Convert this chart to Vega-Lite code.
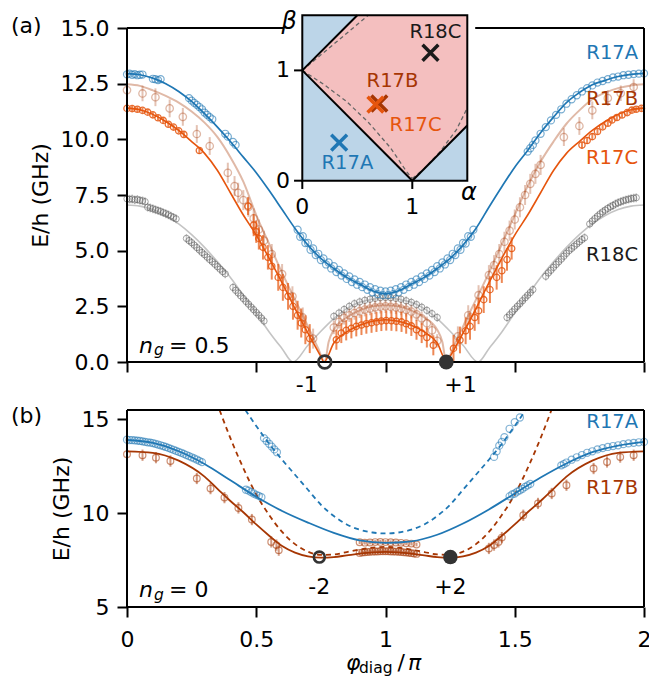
{
"$schema": "https://vega.github.io/schema/vega-lite/v6.json",
"padding": {"left": 10, "top": 6, "right": 5, "bottom": 5},
"background": "white",
"bounds": "flush",
"spacing": 48,
"config": {
  "font": "DejaVu Sans",
  "view": {"stroke": null},
  "axis": {"domain": false, "grid": false, "tickColor": "black", "tickWidth": 2, "tickSize": 10, "labelFontSize": 22, "labelColor": "black", "labelPadding": 8, "labelFlush": false, "titleFontSize": 22, "titleFontWeight": "normal", "titleColor": "black", "titlePadding": 8},
  "text": {"fontSize": 22, "color": "black"}
},
"resolve": {"scale": {"x": "independent", "y": "independent"}},
"datasets": {
  "aL_R17A": [{"x":0,"y":12.95},{"x":0.05,"y":12.9},{"x":0.1,"y":12.75},{"x":0.15,"y":12.5},{"x":0.2,"y":12.15},{"x":0.25,"y":11.7},{"x":0.3,"y":11.15},{"x":0.35,"y":10.55},{"x":0.4,"y":9.9},{"x":0.45,"y":9.2},{"x":0.5,"y":8.5},{"x":0.55,"y":7.7},{"x":0.6,"y":6.85},{"x":0.65,"y":6.0},{"x":0.7,"y":5.25},{"x":0.75,"y":4.65},{"x":0.8,"y":4.2},{"x":0.85,"y":3.8},{"x":0.9,"y":3.5},{"x":0.95,"y":3.2},{"x":1.0,"y":3.07},{"x":1.05,"y":3.2},{"x":1.1,"y":3.5},{"x":1.15,"y":3.8},{"x":1.2,"y":4.2},{"x":1.25,"y":4.65},{"x":1.3,"y":5.25},{"x":1.35,"y":6.0},{"x":1.4,"y":6.95},{"x":1.45,"y":7.87},{"x":1.5,"y":8.75},{"x":1.55,"y":9.5},{"x":1.6,"y":10.3},{"x":1.65,"y":11.0},{"x":1.7,"y":11.65},{"x":1.75,"y":12.1},{"x":1.8,"y":12.45},{"x":1.85,"y":12.65},{"x":1.9,"y":12.82},{"x":1.95,"y":12.92},{"x":2.0,"y":12.96}],
  "aL_R17B": [{"x":0,"y":12.47},{"x":0.05,"y":12.4},{"x":0.1,"y":12.2},{"x":0.15,"y":11.95},{"x":0.2,"y":11.65},{"x":0.25,"y":11.25},{"x":0.3,"y":10.75},{"x":0.35,"y":10.1},{"x":0.4,"y":9.2},{"x":0.45,"y":8.1},{"x":0.5,"y":6.6},{"x":0.55,"y":5.3},{"x":0.6,"y":4.0},{"x":0.65,"y":2.8},{"x":0.7,"y":1.6},{"x":0.74,"y":0.6},{"x":0.765,"y":0},{"x":0.78,"y":0.9},{"x":0.8,"y":1.45},{"x":0.85,"y":2.0},{"x":0.9,"y":2.32},{"x":0.95,"y":2.5},{"x":1.0,"y":2.55},{"x":1.05,"y":2.5},{"x":1.1,"y":2.32},{"x":1.15,"y":2.0},{"x":1.2,"y":1.45},{"x":1.22,"y":0.9},{"x":1.235,"y":0},{"x":1.26,"y":0.6},{"x":1.3,"y":1.6},{"x":1.35,"y":2.8},{"x":1.4,"y":4.0},{"x":1.45,"y":5.3},{"x":1.5,"y":6.6},{"x":1.55,"y":7.9},{"x":1.6,"y":9.0},{"x":1.65,"y":9.9},{"x":1.7,"y":10.7},{"x":1.75,"y":11.3},{"x":1.8,"y":11.8},{"x":1.85,"y":12.1},{"x":1.9,"y":12.3},{"x":1.95,"y":12.42},{"x":2.0,"y":12.47}],
  "aL_R17C": [{"x":0,"y":11.4},{"x":0.05,"y":11.33},{"x":0.1,"y":11.12},{"x":0.15,"y":10.8},{"x":0.2,"y":10.4},{"x":0.25,"y":9.9},{"x":0.3,"y":9.37},{"x":0.35,"y":8.6},{"x":0.4,"y":7.6},{"x":0.45,"y":6.6},{"x":0.5,"y":5.7},{"x":0.55,"y":4.65},{"x":0.6,"y":3.55},{"x":0.65,"y":2.4},{"x":0.7,"y":1.3},{"x":0.75,"y":0.25},{"x":0.762,"y":0},{"x":0.8,"y":0.85},{"x":0.85,"y":1.35},{"x":0.9,"y":1.65},{"x":0.95,"y":1.83},{"x":1.0,"y":1.9},{"x":1.05,"y":1.83},{"x":1.1,"y":1.65},{"x":1.15,"y":1.35},{"x":1.2,"y":0.85},{"x":1.238,"y":0},{"x":1.25,"y":0.25},{"x":1.3,"y":1.3},{"x":1.35,"y":2.4},{"x":1.4,"y":3.55},{"x":1.45,"y":4.65},{"x":1.5,"y":5.7},{"x":1.55,"y":6.6},{"x":1.6,"y":7.6},{"x":1.65,"y":8.6},{"x":1.7,"y":9.37},{"x":1.75,"y":9.9},{"x":1.8,"y":10.4},{"x":1.85,"y":10.8},{"x":1.9,"y":11.12},{"x":1.95,"y":11.33},{"x":2.0,"y":11.4}],
  "aL_R18C": [{"x":0,"y":7.05},{"x":0.05,"y":7.0},{"x":0.1,"y":6.85},{"x":0.15,"y":6.58},{"x":0.2,"y":6.2},{"x":0.25,"y":5.72},{"x":0.3,"y":5.15},{"x":0.35,"y":4.5},{"x":0.4,"y":3.8},{"x":0.45,"y":3.0},{"x":0.5,"y":2.2},{"x":0.55,"y":1.35},{"x":0.6,"y":0.6},{"x":0.642,"y":0},{"x":0.7,"y":0.75},{"x":0.75,"y":1.38},{"x":0.8,"y":1.95},{"x":0.85,"y":2.4},{"x":0.9,"y":2.68},{"x":0.95,"y":2.82},{"x":1.0,"y":2.87},{"x":1.05,"y":2.82},{"x":1.1,"y":2.68},{"x":1.15,"y":2.4},{"x":1.2,"y":1.95},{"x":1.25,"y":1.38},{"x":1.3,"y":0.75},{"x":1.358,"y":0},{"x":1.4,"y":0.6},{"x":1.45,"y":1.35},{"x":1.5,"y":2.2},{"x":1.55,"y":3.0},{"x":1.6,"y":3.8},{"x":1.65,"y":4.5},{"x":1.7,"y":5.15},{"x":1.75,"y":5.72},{"x":1.8,"y":6.2},{"x":1.85,"y":6.58},{"x":1.9,"y":6.85},{"x":1.95,"y":7.0},{"x":2.0,"y":7.05}],
  "aP_R18C": [{"x":0.0,"y":7.33,"e":0.2},{"x":0.01,"y":7.31,"e":0.2},{"x":0.02,"y":7.32,"e":0.2},{"x":0.03,"y":7.28,"e":0.2},{"x":0.04,"y":7.3,"e":0.2},{"x":0.05,"y":7.26,"e":0.2},{"x":0.06,"y":7.24,"e":0.2},{"x":0.07,"y":7.2,"e":0.2},
    {"x":0.08,"y":6.95,"e":0.2},{"x":0.09,"y":6.92,"e":0.2},{"x":0.1,"y":6.88,"e":0.2},{"x":0.11,"y":6.84,"e":0.2},{"x":0.12,"y":6.8,"e":0.2},{"x":0.13,"y":6.76,"e":0.2},{"x":0.14,"y":6.71,"e":0.2},{"x":0.15,"y":6.66,"e":0.2},{"x":0.16,"y":6.61,"e":0.2},{"x":0.17,"y":6.55,"e":0.2},{"x":0.18,"y":6.49,"e":0.2},{"x":0.19,"y":6.43,"e":0.2},
    {"x":0.23,"y":5.55,"e":0.2},{"x":0.24,"y":5.45,"e":0.2},{"x":0.25,"y":5.36,"e":0.2},{"x":0.26,"y":5.25,"e":0.2},{"x":0.27,"y":5.14,"e":0.2},{"x":0.28,"y":5.03,"e":0.2},{"x":0.29,"y":4.92,"e":0.2},{"x":0.3,"y":4.82,"e":0.2},{"x":0.31,"y":4.71,"e":0.2},{"x":0.32,"y":4.6,"e":0.2},{"x":0.33,"y":4.5,"e":0.2},{"x":0.34,"y":4.39,"e":0.2},{"x":0.35,"y":4.28,"e":0.2},{"x":0.36,"y":4.17,"e":0.2},{"x":0.37,"y":4.06,"e":0.2},{"x":0.38,"y":3.96,"e":0.2},
    {"x":0.41,"y":3.35,"e":0.2},{"x":0.42,"y":3.22,"e":0.2},{"x":0.43,"y":3.1,"e":0.2},{"x":0.44,"y":2.97,"e":0.2},{"x":0.45,"y":2.85,"e":0.2},{"x":0.46,"y":2.72,"e":0.2},{"x":0.47,"y":2.6,"e":0.2},{"x":0.48,"y":2.47,"e":0.2},{"x":0.49,"y":2.35,"e":0.2},{"x":0.5,"y":2.22,"e":0.2},{"x":0.51,"y":2.1,"e":0.2},{"x":0.52,"y":1.97,"e":0.2},{"x":0.53,"y":1.84,"e":0.2},
    {"x":0.8,"y":2.05,"e":0.2},{"x":0.82,"y":2.2,"e":0.2},{"x":0.84,"y":2.36,"e":0.2},{"x":0.86,"y":2.5,"e":0.2},{"x":0.88,"y":2.62,"e":0.2},{"x":0.9,"y":2.7,"e":0.2},{"x":0.92,"y":2.77,"e":0.2},{"x":0.94,"y":2.82,"e":0.2},{"x":0.96,"y":2.86,"e":0.2},{"x":0.98,"y":2.89,"e":0.2},{"x":1.0,"y":2.9,"e":0.2},{"x":1.02,"y":2.89,"e":0.2},{"x":1.04,"y":2.86,"e":0.2},{"x":1.06,"y":2.82,"e":0.2},{"x":1.08,"y":2.75,"e":0.2},{"x":1.1,"y":2.68,"e":0.2},{"x":1.12,"y":2.58,"e":0.2},{"x":1.14,"y":2.46,"e":0.2},{"x":1.16,"y":2.32,"e":0.2},{"x":1.18,"y":2.17,"e":0.2},{"x":1.2,"y":2.0,"e":0.2},
    {"x":1.47,"y":2.0,"e":0.2},{"x":1.48,"y":2.12,"e":0.2},{"x":1.49,"y":2.25,"e":0.2},{"x":1.5,"y":2.38,"e":0.2},{"x":1.51,"y":2.5,"e":0.2},{"x":1.52,"y":2.62,"e":0.2},{"x":1.53,"y":2.75,"e":0.2},{"x":1.54,"y":2.88,"e":0.2},{"x":1.55,"y":3.0,"e":0.2},{"x":1.56,"y":3.12,"e":0.2},{"x":1.57,"y":3.25,"e":0.2},
    {"x":1.62,"y":3.85,"e":0.2},{"x":1.63,"y":4.0,"e":0.2},{"x":1.64,"y":4.12,"e":0.2},{"x":1.65,"y":4.25,"e":0.2},{"x":1.66,"y":4.38,"e":0.2},{"x":1.67,"y":4.5,"e":0.2},{"x":1.68,"y":4.62,"e":0.2},{"x":1.69,"y":4.75,"e":0.2},{"x":1.7,"y":4.88,"e":0.2},{"x":1.71,"y":5.0,"e":0.2},{"x":1.72,"y":5.1,"e":0.2},{"x":1.73,"y":5.2,"e":0.2},{"x":1.74,"y":5.3,"e":0.2},{"x":1.75,"y":5.4,"e":0.2},{"x":1.76,"y":5.5,"e":0.2},{"x":1.77,"y":5.58,"e":0.2},
    {"x":1.79,"y":6.2,"e":0.2},{"x":1.8,"y":6.33,"e":0.2},{"x":1.81,"y":6.44,"e":0.2},{"x":1.82,"y":6.55,"e":0.2},{"x":1.83,"y":6.65,"e":0.2},{"x":1.84,"y":6.74,"e":0.2},{"x":1.85,"y":6.82,"e":0.2},{"x":1.86,"y":6.9,"e":0.2},{"x":1.87,"y":6.97,"e":0.2},{"x":1.88,"y":7.03,"e":0.2},
    {"x":1.89,"y":7.1,"e":0.2},{"x":1.9,"y":7.15,"e":0.2},{"x":1.91,"y":7.2,"e":0.2},{"x":1.92,"y":7.24,"e":0.2},{"x":1.93,"y":7.28,"e":0.2},{"x":1.94,"y":7.31,"e":0.2},{"x":1.95,"y":7.34,"e":0.2},{"x":1.96,"y":7.36,"e":0.2},{"x":1.97,"y":7.38,"e":0.2}],
  "aP_R17B": [{"x":0.0,"y":12.21,"e":0.35},{"x":0.06,"y":12.06,"e":0.35},{"x":0.11,"y":11.89,"e":0.4},{"x":0.165,"y":11.39,"e":0.4},{"x":0.216,"y":11.01,"e":0.4},{"x":0.27,"y":10.24,"e":0.4},{"x":0.32,"y":9.7,"e":0.4},{"x":0.39,"y":8.5,"e":0.45},{"x":0.416,"y":7.9,"e":0.45},{"x":0.43,"y":7.6,"e":0.45},{"x":0.45,"y":7.27,"e":0.45},{"x":0.47,"y":6.97,"e":0.45},{"x":0.49,"y":6.45,"e":0.45},{"x":0.51,"y":5.95,"e":0.45},{"x":0.53,"y":5.45,"e":0.45},{"x":0.56,"y":4.85,"e":0.45},{"x":0.6,"y":3.95,"e":0.45},{"x":0.64,"y":2.95,"e":0.45},{"x":0.68,"y":2.0,"e":0.45},{"x":0.72,"y":1.05,"e":0.45},
    {"x":0.8,"y":1.55,"e":0.3},{"x":0.82,"y":1.8,"e":0.3},{"x":0.84,"y":1.98,"e":0.3},{"x":0.86,"y":2.1,"e":0.3},{"x":0.88,"y":2.2,"e":0.3},{"x":0.9,"y":2.28,"e":0.3},{"x":0.92,"y":2.35,"e":0.3},{"x":0.94,"y":2.4,"e":0.3},{"x":0.96,"y":2.45,"e":0.3},{"x":0.98,"y":2.48,"e":0.3},{"x":1.0,"y":2.5,"e":0.3},{"x":1.02,"y":2.48,"e":0.3},{"x":1.04,"y":2.45,"e":0.3},{"x":1.06,"y":2.4,"e":0.3},{"x":1.08,"y":2.34,"e":0.3},{"x":1.1,"y":2.26,"e":0.3},{"x":1.12,"y":2.14,"e":0.3},{"x":1.14,"y":1.96,"e":0.3},{"x":1.16,"y":1.74,"e":0.3},{"x":1.18,"y":1.42,"e":0.3},{"x":1.2,"y":0.95,"e":0.3},
    {"x":1.28,"y":1.15,"e":0.45},{"x":1.32,"y":2.1,"e":0.45},{"x":1.36,"y":3.0,"e":0.45},{"x":1.4,"y":3.9,"e":0.45},{"x":1.42,"y":4.35,"e":0.45},{"x":1.44,"y":4.85,"e":0.45},{"x":1.46,"y":5.4,"e":0.45},{"x":1.48,"y":5.9,"e":0.45},{"x":1.5,"y":6.4,"e":0.45},{"x":1.52,"y":6.95,"e":0.45},{"x":1.54,"y":7.5,"e":0.45},{"x":1.56,"y":8.0,"e":0.45},{"x":1.58,"y":8.45,"e":0.45},{"x":1.6,"y":8.85,"e":0.45},{"x":1.69,"y":10.1,"e":0.4},{"x":1.75,"y":10.6,"e":0.4},{"x":1.8,"y":11.3,"e":0.4},{"x":1.86,"y":11.85,"e":0.35},{"x":1.91,"y":12.07,"e":0.35},{"x":1.96,"y":12.35,"e":0.35}],
  "aP_R17C": [{"x":0.0,"y":11.39,"e":0.12},{"x":0.02,"y":11.38,"e":0.12},{"x":0.04,"y":11.35,"e":0.12},{"x":0.06,"y":11.3,"e":0.12},{"x":0.08,"y":11.22,"e":0.12},{"x":0.1,"y":11.1,"e":0.12},{"x":0.12,"y":10.97,"e":0.12},{"x":0.14,"y":10.85,"e":0.12},{"x":0.16,"y":10.68,"e":0.12},{"x":0.18,"y":10.55,"e":0.12},{"x":0.2,"y":10.38,"e":0.12},{"x":0.22,"y":10.22,"e":0.12},{"x":0.28,"y":9.5,"e":0.15},
    {"x":0.468,"y":7.0,"e":0.4},{"x":0.49,"y":6.15,"e":0.5},{"x":0.5,"y":5.85,"e":0.5},{"x":0.51,"y":5.55,"e":0.5},{"x":0.526,"y":5.15,"e":0.55},{"x":0.545,"y":4.7,"e":0.55},{"x":0.56,"y":4.3,"e":0.6},{"x":0.585,"y":3.8,"e":0.6},{"x":0.603,"y":3.35,"e":0.6},{"x":0.623,"y":2.95,"e":0.6},{"x":0.642,"y":2.5,"e":0.6},{"x":0.66,"y":2.1,"e":0.65},{"x":0.674,"y":1.75,"e":0.65},{"x":0.69,"y":1.45,"e":0.65},{"x":0.707,"y":1.05,"e":0.65},
    {"x":0.81,"y":1.0,"e":0.45},{"x":0.829,"y":1.3,"e":0.45},{"x":0.848,"y":1.42,"e":0.45},{"x":0.868,"y":1.51,"e":0.45},{"x":0.887,"y":1.6,"e":0.45},{"x":0.907,"y":1.66,"e":0.45},{"x":0.926,"y":1.72,"e":0.45},{"x":0.946,"y":1.76,"e":0.45},{"x":0.965,"y":1.8,"e":0.45},{"x":0.984,"y":1.84,"e":0.45},{"x":1.003,"y":1.86,"e":0.45},{"x":1.023,"y":1.85,"e":0.45},{"x":1.042,"y":1.83,"e":0.45},{"x":1.062,"y":1.8,"e":0.45},{"x":1.08,"y":1.72,"e":0.45},{"x":1.1,"y":1.62,"e":0.45},{"x":1.12,"y":1.45,"e":0.45},{"x":1.14,"y":1.3,"e":0.45},{"x":1.16,"y":1.1,"e":0.45},{"x":1.185,"y":0.75,"e":0.45},
    {"x":1.263,"y":0.61,"e":0.6},{"x":1.288,"y":0.99,"e":0.6},{"x":1.31,"y":1.4,"e":0.6},{"x":1.327,"y":1.6,"e":0.6},{"x":1.345,"y":2.0,"e":0.6},{"x":1.36,"y":2.3,"e":0.6},{"x":1.38,"y":2.8,"e":0.6},{"x":1.404,"y":3.25,"e":0.6},{"x":1.43,"y":3.8,"e":0.55},{"x":1.45,"y":4.1,"e":0.55},{"x":1.47,"y":4.6,"e":0.5},{"x":1.488,"y":5.1,"e":0.5},
    {"x":1.76,"y":9.74,"e":0.15},{"x":1.78,"y":9.95,"e":0.15},{"x":1.8,"y":10.12,"e":0.15},{"x":1.82,"y":10.35,"e":0.12},{"x":1.84,"y":10.56,"e":0.12},{"x":1.86,"y":10.72,"e":0.12},{"x":1.876,"y":10.87,"e":0.12},{"x":1.895,"y":10.98,"e":0.12},{"x":1.915,"y":11.09,"e":0.12},{"x":1.935,"y":11.2,"e":0.12},{"x":1.953,"y":11.31,"e":0.12},{"x":1.97,"y":11.35,"e":0.12},{"x":1.99,"y":11.39,"e":0.12}],
  "aP_R17A": [{"x":0.0,"y":12.92},{"x":0.01,"y":12.95},{"x":0.02,"y":12.9},{"x":0.03,"y":12.93},{"x":0.04,"y":12.88},{"x":0.05,"y":12.9},{"x":0.06,"y":12.91},{"x":0.1,"y":12.72},{"x":0.11,"y":12.7},{"x":0.12,"y":12.66},{"x":0.13,"y":12.7},
    {"x":0.24,"y":11.85},{"x":0.25,"y":11.74},{"x":0.26,"y":11.64},{"x":0.27,"y":11.55},{"x":0.28,"y":11.45},{"x":0.29,"y":11.35},{"x":0.3,"y":11.2},{"x":0.31,"y":11.1},{"x":0.32,"y":11.0},{"x":0.33,"y":10.9},{"x":0.38,"y":10.25},{"x":0.39,"y":10.12},{"x":0.41,"y":9.88},{"x":0.42,"y":9.75},
    {"x":0.66,"y":5.94},{"x":0.67,"y":5.62},{"x":0.68,"y":5.65},{"x":0.69,"y":5.34},{"x":0.7,"y":5.35},{"x":0.71,"y":5.04},{"x":0.72,"y":5.1},{"x":0.73,"y":4.8},{"x":0.74,"y":4.86},{"x":0.75,"y":4.58},{"x":0.76,"y":4.65},{"x":0.77,"y":4.38},{"x":0.78,"y":4.47},{"x":0.79,"y":4.2},{"x":0.8,"y":4.3},{"x":0.81,"y":4.04},{"x":0.82,"y":4.14},{"x":0.83,"y":3.88},{"x":0.84,"y":3.98},{"x":0.85,"y":3.73},{"x":0.86,"y":3.84},{"x":0.87,"y":3.59},{"x":0.88,"y":3.71},{"x":0.89,"y":3.47},{"x":0.9,"y":3.6},{"x":0.91,"y":3.36},{"x":0.92,"y":3.48},{"x":0.93,"y":3.24},{"x":0.94,"y":3.36},{"x":0.95,"y":3.13},{"x":0.96,"y":3.27},{"x":0.97,"y":3.05},{"x":0.98,"y":3.2},{"x":0.99,"y":3.0},{"x":1.0,"y":3.17},{"x":1.01,"y":3.0},{"x":1.02,"y":3.2},{"x":1.03,"y":3.05},{"x":1.04,"y":3.27},{"x":1.05,"y":3.13},{"x":1.06,"y":3.36},{"x":1.07,"y":3.24},{"x":1.08,"y":3.48},{"x":1.09,"y":3.36},{"x":1.1,"y":3.6},{"x":1.11,"y":3.47},{"x":1.12,"y":3.71},{"x":1.13,"y":3.59},{"x":1.14,"y":3.84},{"x":1.15,"y":3.73},{"x":1.16,"y":3.98},{"x":1.17,"y":3.88},{"x":1.18,"y":4.14},{"x":1.19,"y":4.04},{"x":1.2,"y":4.3},{"x":1.21,"y":4.2},{"x":1.22,"y":4.47},{"x":1.23,"y":4.38},{"x":1.24,"y":4.65},{"x":1.25,"y":4.58},{"x":1.26,"y":4.86},{"x":1.27,"y":4.8},{"x":1.28,"y":5.1},{"x":1.29,"y":5.04},{"x":1.3,"y":5.35},{"x":1.31,"y":5.32},{"x":1.32,"y":5.65},{"x":1.33,"y":5.62},{"x":1.34,"y":5.94},
    {"x":1.55,"y":9.45},{"x":1.56,"y":9.6},{"x":1.57,"y":9.75},{"x":1.58,"y":9.95},{"x":1.6,"y":10.25},{"x":1.62,"y":10.55},{"x":1.64,"y":10.85},{"x":1.66,"y":11.1},{"x":1.68,"y":11.35},{"x":1.7,"y":11.6},{"x":1.72,"y":11.8},{"x":1.74,"y":11.98},{"x":1.76,"y":12.15},{"x":1.78,"y":12.3},{"x":1.8,"y":12.42},{"x":1.82,"y":12.55},{"x":1.84,"y":12.62},{"x":1.86,"y":12.7},{"x":1.88,"y":12.78},{"x":1.9,"y":12.82},{"x":1.92,"y":12.88},{"x":1.94,"y":12.9},{"x":1.96,"y":12.93},{"x":1.98,"y":12.95},{"x":2.0,"y":12.96}],
  "a_nodes_open": [{"x":0.765,"y":0}],
  "a_nodes_fill": [{"x":1.235,"y":0}],
  "a_labels": [{"x":1.977,"y":13.87,"t":"R17A","s":"R17A"},{"x":1.977,"y":11.81,"t":"R17B","s":"R17B"},{"x":1.977,"y":9.16,"t":"R17C","s":"R17C"},{"x":1.977,"y":4.8,"t":"R18C","s":"R18C"}],
  "a_ticklabels": [{"x":0.695,"y":-1.03,"t":"-1"},{"x":1.29,"y":-1.03,"t":"+1"}],
  "a_vframe": [{"x":0,"y":0,"y2":15},{"x":2,"y":0,"y2":15}],
  "a_hframe": [{"x":0,"x2":2,"y":0},{"x":0,"x2":0.61,"y":15},{"x":1.347,"x2":2,"y":15}],
  "a_panel": [{"x":-0.449,"y":15.09,"t":"(a)"}],
  "a_ng_n": [{"x":0.046,"y":0.42,"t":"n"}],
  "a_ng_g": [{"x":0.104,"y":0.3,"t":"g"}],
  "a_ng_v": [{"x":0.1625,"y":0.42,"t":"= 0.5"}],
  "in_bg": [{"a":-0.17,"a2":1.57,"b":-0.05,"b2":1.58}],
  "in_box": [{"a":0,"a2":1.5,"b":0,"b2":1.5}],
  "in_vticks": [{"a":0,"b":0,"b2":-0.075},{"a":1,"b":0,"b2":-0.075}],
  "in_hticks": [{"a":0,"a2":-0.075,"b":0},{"a":0,"a2":-0.075,"b":1}],
  "in_poly": [{"a":0,"lo":1,"hi":1},{"a":0.5,"lo":0.5,"hi":1.5},{"a":1,"lo":0,"hi":1.5},{"a":1.5,"lo":0.5,"hi":1.5}],
  "in_solid": [{"k":"s1","a":0,"b":1},{"k":"s1","a":0.5,"b":1.5},{"k":"s2","a":0,"b":1},{"k":"s2","a":1,"b":0},{"k":"s3","a":1,"b":0},{"k":"s3","a":1.5,"b":0.5}],
  "in_dashed": [{"k":"d1","a":0,"b":1},{"k":"d1","a":0.3,"b":1.25},{"k":"d1","a":0.6,"b":1.5},
    {"k":"d2","a":0,"b":1},{"k":"d2","a":0.2,"b":0.87},{"k":"d2","a":0.4,"b":0.72},{"k":"d2","a":0.6,"b":0.53},{"k":"d2","a":0.8,"b":0.3},{"k":"d2","a":0.95,"b":0.08},{"k":"d2","a":1,"b":0.02},
    {"k":"d3","a":1,"b":0.02},{"k":"d3","a":1.1,"b":0.1},{"k":"d3","a":1.25,"b":0.26},{"k":"d3","a":1.4,"b":0.46},{"k":"d3","a":1.5,"b":0.66}],
  "in_marks": [{"s":"R17A","a":0.335,"b":0.345},{"s":"R17B","a":0.70,"b":0.70},{"s":"R17C","a":0.665,"b":0.69},{"s":"R18C","a":1.165,"b":1.16}],
  "in_labels": [{"s":"R18C","t":"R18C","a":1.21,"b":1.35},{"s":"R17B","t":"R17B","a":0.82,"b":0.9},{"s":"R17C","t":"R17C","a":1.03,"b":0.505},{"s":"R17A","t":"R17A","a":0.41,"b":0.163}],
  "in_ticklabels": [{"a":0,"b":-0.24,"t":"0"},{"a":1,"b":-0.24,"t":"1"},{"a":-0.175,"b":0,"t":"0"},{"a":-0.175,"b":1,"t":"1"}],
  "in_axlabels": [{"a":1.515,"b":-0.11,"t":"α"},{"a":-0.12,"b":1.44,"t":"β"}],
  "bL_A": [{"x":0,"y":13.9},{"x":0.1,"y":13.75},{"x":0.2,"y":13.3},{"x":0.3,"y":12.62},{"x":0.4,"y":11.75},{"x":0.5,"y":10.88},{"x":0.6,"y":10.12},{"x":0.7,"y":9.5},{"x":0.8,"y":8.95},{"x":0.9,"y":8.55},{"x":1.0,"y":8.42},{"x":1.1,"y":8.5},{"x":1.2,"y":8.85},{"x":1.3,"y":9.45},{"x":1.4,"y":10.2},{"x":1.5,"y":11.05},{"x":1.6,"y":11.9},{"x":1.7,"y":12.65},{"x":1.8,"y":13.25},{"x":1.9,"y":13.6},{"x":2.0,"y":13.8}],
  "bL_Ad": [{"x":0.458,"y":15.5},{"x":0.5,"y":14.65},{"x":0.55,"y":13.7},{"x":0.6,"y":12.85},{"x":0.65,"y":12.05},{"x":0.7,"y":11.25},{"x":0.75,"y":10.45},{"x":0.8,"y":9.85},{"x":0.85,"y":9.4},{"x":0.9,"y":9.12},{"x":0.95,"y":8.97},{"x":1.0,"y":8.92},{"x":1.05,"y":8.97},{"x":1.1,"y":9.12},{"x":1.15,"y":9.4},{"x":1.2,"y":9.85},{"x":1.25,"y":10.45},{"x":1.3,"y":11.25},{"x":1.35,"y":12.05},{"x":1.4,"y":12.85},{"x":1.45,"y":13.7},{"x":1.5,"y":14.65},{"x":1.542,"y":15.5}],
  "bL_B": [{"x":0,"y":13.3},{"x":0.1,"y":13.22},{"x":0.2,"y":12.8},{"x":0.3,"y":11.95},{"x":0.35,"y":11.3},{"x":0.4,"y":10.65},{"x":0.45,"y":10.05},{"x":0.5,"y":9.4},{"x":0.55,"y":8.8},{"x":0.6,"y":8.25},{"x":0.65,"y":7.9},{"x":0.7,"y":7.7},{"x":0.75,"y":7.63},{"x":0.8,"y":7.66},{"x":0.85,"y":7.75},{"x":0.9,"y":7.84},{"x":0.95,"y":7.91},{"x":1.0,"y":7.94},{"x":1.05,"y":7.91},{"x":1.1,"y":7.84},{"x":1.15,"y":7.75},{"x":1.2,"y":7.66},{"x":1.25,"y":7.63},{"x":1.3,"y":7.7},{"x":1.35,"y":7.9},{"x":1.4,"y":8.25},{"x":1.45,"y":8.8},{"x":1.5,"y":9.4},{"x":1.55,"y":10.05},{"x":1.6,"y":10.65},{"x":1.65,"y":11.3},{"x":1.7,"y":11.95},{"x":1.8,"y":12.8},{"x":1.9,"y":13.22},{"x":2.0,"y":13.3}],
  "bL_Bd": [{"x":0.358,"y":15.5},{"x":0.4,"y":14.0},{"x":0.45,"y":12.4},{"x":0.5,"y":11.0},{"x":0.55,"y":9.9},{"x":0.6,"y":9.0},{"x":0.65,"y":8.35},{"x":0.7,"y":7.95},{"x":0.75,"y":7.78},{"x":0.8,"y":7.8},{"x":0.85,"y":7.93},{"x":0.9,"y":8.06},{"x":0.95,"y":8.16},{"x":1.0,"y":8.2},{"x":1.05,"y":8.16},{"x":1.1,"y":8.06},{"x":1.15,"y":7.93},{"x":1.2,"y":7.8},{"x":1.25,"y":7.78},{"x":1.3,"y":7.95},{"x":1.35,"y":8.35},{"x":1.4,"y":9.0},{"x":1.45,"y":9.9},{"x":1.5,"y":11.0},{"x":1.55,"y":12.4},{"x":1.6,"y":14.0},{"x":1.642,"y":15.5}],
  "bP_A": [{"x":0.0,"y":13.92},{"x":0.01,"y":13.9},{"x":0.02,"y":13.9},{"x":0.03,"y":13.88},{"x":0.04,"y":13.87},{"x":0.05,"y":13.85},{"x":0.06,"y":13.83},{"x":0.07,"y":13.8},{"x":0.08,"y":13.78},{"x":0.09,"y":13.76},{"x":0.1,"y":13.74},{"x":0.11,"y":13.7},{"x":0.12,"y":13.66},{"x":0.13,"y":13.62},{"x":0.14,"y":13.58},{"x":0.15,"y":13.53},{"x":0.16,"y":13.48},{"x":0.17,"y":13.43},{"x":0.18,"y":13.38},{"x":0.19,"y":13.32},{"x":0.2,"y":13.27},{"x":0.21,"y":13.22},{"x":0.22,"y":13.16},{"x":0.23,"y":13.1},{"x":0.24,"y":13.04},{"x":0.25,"y":12.98},{"x":0.26,"y":12.92},{"x":0.27,"y":12.86},{"x":0.28,"y":12.79},{"x":0.29,"y":12.72},
    {"x":0.46,"y":11.25},{"x":0.47,"y":11.2},{"x":0.48,"y":11.12},{"x":0.49,"y":11.05},{"x":0.5,"y":10.98},{"x":0.51,"y":10.92},{"x":0.52,"y":10.85},
    {"x":0.53,"y":14.0},{"x":0.54,"y":13.85},{"x":0.55,"y":13.7},{"x":0.56,"y":13.55},{"x":0.57,"y":13.4},{"x":0.58,"y":13.25},
    {"x":1.42,"y":13.0},{"x":1.43,"y":13.3},{"x":1.44,"y":13.6},{"x":1.45,"y":13.8},{"x":1.46,"y":14.05},{"x":1.48,"y":14.5},{"x":1.5,"y":14.85},{"x":1.52,"y":15.1},
    {"x":1.48,"y":10.9},{"x":1.49,"y":11.0},{"x":1.5,"y":11.05},{"x":1.51,"y":11.15},{"x":1.52,"y":11.22},{"x":1.53,"y":11.3},{"x":1.54,"y":11.4},{"x":1.55,"y":11.48},{"x":1.56,"y":11.56},
    {"x":1.68,"y":12.55},{"x":1.69,"y":12.62},{"x":1.7,"y":12.7},{"x":1.72,"y":12.85},{"x":1.74,"y":12.98},{"x":1.76,"y":13.1},{"x":1.78,"y":13.22},{"x":1.8,"y":13.3},{"x":1.82,"y":13.4},{"x":1.84,"y":13.47},{"x":1.86,"y":13.53},{"x":1.88,"y":13.58},{"x":1.9,"y":13.62},{"x":1.92,"y":13.68},{"x":1.94,"y":13.72},{"x":1.96,"y":13.75},{"x":1.98,"y":13.78},{"x":2.0,"y":13.8}],
  "bP_B": [{"x":0.0,"y":13.14,"e":0.3},{"x":0.06,"y":13.09,"e":0.3},{"x":0.112,"y":12.96,"e":0.3},{"x":0.168,"y":12.78,"e":0.3},{"x":0.27,"y":11.85,"e":0.3},{"x":0.323,"y":11.31,"e":0.3},{"x":0.377,"y":10.83,"e":0.3},{"x":0.431,"y":10.28,"e":0.3},{"x":0.483,"y":9.66,"e":0.3},{"x":0.558,"y":8.47,"e":0.3},{"x":0.578,"y":8.3,"e":0.3},{"x":0.587,"y":8.03,"e":0.3},
    {"x":0.9,"y":8.45,"e":0.1},{"x":0.92,"y":8.43,"e":0.1},{"x":0.94,"y":8.44,"e":0.1},{"x":0.96,"y":8.46,"e":0.1},{"x":0.98,"y":8.47,"e":0.1},{"x":1.0,"y":8.46,"e":0.1},{"x":1.02,"y":8.45,"e":0.1},{"x":1.04,"y":8.44,"e":0.1},{"x":1.06,"y":8.42,"e":0.1},{"x":1.08,"y":8.4,"e":0.1},{"x":1.1,"y":8.38,"e":0.1},{"x":1.12,"y":8.33,"e":0.1},
    {"x":0.9,"y":7.88,"e":0.1},{"x":0.91,"y":7.9,"e":0.1},{"x":0.92,"y":7.92,"e":0.1},{"x":0.93,"y":7.93,"e":0.1},{"x":0.94,"y":7.94,"e":0.1},{"x":0.95,"y":7.95,"e":0.1},{"x":0.96,"y":7.96,"e":0.1},{"x":0.97,"y":7.96,"e":0.1},{"x":0.98,"y":7.97,"e":0.1},{"x":0.99,"y":7.97,"e":0.1},{"x":1.0,"y":7.97,"e":0.1},{"x":1.01,"y":7.97,"e":0.1},{"x":1.02,"y":7.96,"e":0.1},{"x":1.03,"y":7.96,"e":0.1},{"x":1.04,"y":7.95,"e":0.1},{"x":1.05,"y":7.94,"e":0.1},{"x":1.06,"y":7.93,"e":0.1},{"x":1.07,"y":7.92,"e":0.1},{"x":1.08,"y":7.9,"e":0.1},{"x":1.09,"y":7.89,"e":0.1},{"x":1.1,"y":7.87,"e":0.1},{"x":1.11,"y":7.85,"e":0.1},{"x":1.12,"y":7.83,"e":0.1},
    {"x":1.4,"y":8.12,"e":0.3},{"x":1.42,"y":8.3,"e":0.3},{"x":1.437,"y":8.47,"e":0.3},{"x":1.45,"y":8.7,"e":0.3},{"x":1.533,"y":9.89,"e":0.3},{"x":1.59,"y":10.52,"e":0.3},{"x":1.643,"y":11.05,"e":0.3},{"x":1.7,"y":11.49,"e":0.3},{"x":1.805,"y":12.38,"e":0.3},{"x":1.857,"y":12.73,"e":0.3},{"x":1.908,"y":12.99,"e":0.3},{"x":1.96,"y":13.09,"e":0.3}],
  "b_nodes_open": [{"x":0.744,"y":7.66}],
  "b_nodes_fill": [{"x":1.251,"y":7.66}],
  "b_labels": [{"x":1.977,"y":14.88,"t":"R17A","s":"R17A"},{"x":1.977,"y":11.34,"t":"R17B","s":"R17B"}],
  "b_ticklabels": [{"x":0.744,"y":6.07,"t":"-2"},{"x":1.251,"y":6.07,"t":"+2"}],
  "b_vframe": [{"x":0,"y":5,"y2":15.5},{"x":2,"y":5,"y2":15.5}],
  "b_hframe": [{"x":0,"x2":2,"y":5},{"x":0,"x2":2,"y":15.5}],
  "b_panel": [{"x":-0.449,"y":15.18,"t":"(b)"}],
  "b_ng_n": [{"x":0.046,"y":5.53,"t":"n"}],
  "b_ng_g": [{"x":0.104,"y":5.37,"t":"g"}],
  "b_ng_v": [{"x":0.1625,"y":5.53,"t":"= 0"}],
  "b_xt_it": [{"x":0.847,"y":1.642,"t":"φ"},{"x":1.087,"y":1.642,"t":"π"}],
  "b_xt_sub": [{"x":0.8975,"y":1.466,"t":"diag"}],
  "b_xt_sl": [{"x":1.046,"y":1.642,"t":"/"}]
},
"vconcat": [
{
  "width": 517, "height": 334,
  "resolve": {"scale": {"x": "independent", "y": "independent"}},
  "layer": [
  {
    "encoding": {
      "x": {"field": "x", "type": "quantitative", "scale": {"domain": [0, 2], "nice": false, "zero": false}, "axis": {"values": [0, 0.5, 1, 1.5, 2], "labels": false, "title": null}},
      "y": {"field": "y", "type": "quantitative", "scale": {"domain": [0, 15], "nice": false, "zero": false}, "axis": {"values": [0, 2.5, 5, 7.5, 10, 12.5, 15], "format": ".1f", "title": "E/h (GHz)"}}
    },
    "layer": [
      {"data": {"name": "aL_R18C"}, "mark": {"type": "line", "color": "#c4c4c4", "strokeWidth": 1.6, "interpolate": "monotone"}, "encoding": {}},
      {"data": {"name": "aL_R17B"}, "mark": {"type": "line", "color": "#a63603", "opacity": 0.35, "strokeWidth": 2, "interpolate": "monotone"}, "encoding": {}},
      {"data": {"name": "aP_R18C"}, "mark": {"type": "errorbar", "color": "#9a9a9a", "thickness": 1.5, "opacity": 0.5}, "encoding": {"yError": {"field": "e"}}},
      {"data": {"name": "aP_R18C"}, "mark": {"type": "point", "filled": false, "color": "#555555", "size": 40, "strokeWidth": 1, "opacity": 0.55}, "encoding": {}},
      {"data": {"name": "aP_R17B"}, "mark": {"type": "errorbar", "color": "#a63603", "thickness": 2, "opacity": 0.3}, "encoding": {"yError": {"field": "e"}}},
      {"data": {"name": "aP_R17B"}, "mark": {"type": "point", "filled": false, "color": "#a63603", "size": 55, "strokeWidth": 1.3, "opacity": 0.35}, "encoding": {}},
      {"data": {"name": "aL_R17C"}, "mark": {"type": "line", "color": "#e6550d", "strokeWidth": 1.6, "interpolate": "monotone"}, "encoding": {}},
      {"data": {"name": "aP_R17C"}, "mark": {"type": "errorbar", "color": "#e6550d", "thickness": 2, "opacity": 0.7}, "encoding": {"yError": {"field": "e"}}},
      {"data": {"name": "aP_R17C"}, "mark": {"type": "point", "filled": false, "color": "#e6550d", "size": 40, "strokeWidth": 1.3, "opacity": 0.85}, "encoding": {}},
      {"data": {"name": "aL_R17A"}, "mark": {"type": "line", "color": "#1f77b4", "strokeWidth": 1.7, "interpolate": "monotone"}, "encoding": {}},
      {"data": {"name": "aP_R17A"}, "mark": {"type": "point", "filled": false, "color": "#1f77b4", "size": 50, "strokeWidth": 1.2, "opacity": 0.6}, "encoding": {}},
      {"data": {"name": "a_vframe"}, "mark": {"type": "rule", "color": "black", "strokeWidth": 2}, "encoding": {"y2": {"field": "y2"}}},
      {"data": {"name": "a_hframe"}, "mark": {"type": "rule", "color": "black", "strokeWidth": 2}, "encoding": {"x2": {"field": "x2"}}},
      {"data": {"name": "a_nodes_open"}, "mark": {"type": "point", "filled": false, "color": "#333333", "size": 165, "strokeWidth": 2.6, "opacity": 1}, "encoding": {}},
      {"data": {"name": "a_nodes_fill"}, "mark": {"type": "point", "filled": true, "color": "#333333", "size": 220, "opacity": 1}, "encoding": {}},
      {"data": {"name": "a_labels"}, "mark": {"type": "text", "align": "right", "baseline": "middle", "fontSize": 19.5}, "encoding": {"text": {"field": "t"}, "color": {"field": "s", "type": "nominal", "scale": {"domain": ["R17A", "R17B", "R17C", "R18C"], "range": ["#1f77b4", "#a63603", "#e6550d", "#1a1a1a"]}, "legend": null}}},
      {"data": {"name": "a_ticklabels"}, "mark": {"type": "text", "align": "center", "baseline": "middle", "fontSize": 22}, "encoding": {"text": {"field": "t"}}},
      {"data": {"name": "a_panel"}, "mark": {"type": "text", "align": "left", "baseline": "middle", "fontSize": 22}, "encoding": {"text": {"field": "t"}}},
      {"data": {"name": "a_ng_n"}, "mark": {"type": "text", "align": "left", "baseline": "alphabetic", "fontSize": 22, "fontStyle": "italic"}, "encoding": {"text": {"field": "t"}}},
      {"data": {"name": "a_ng_g"}, "mark": {"type": "text", "align": "left", "baseline": "alphabetic", "fontSize": 15.5, "fontStyle": "italic"}, "encoding": {"text": {"field": "t"}}},
      {"data": {"name": "a_ng_v"}, "mark": {"type": "text", "align": "left", "baseline": "alphabetic", "fontSize": 22}, "encoding": {"text": {"field": "t"}}}
    ]
  },
  {
    "encoding": {
      "x": {"field": "a", "type": "quantitative", "scale": {"domain": [-1.5936, 3.1064], "nice": false, "zero": false}, "axis": null},
      "y": {"field": "b", "type": "quantitative", "scale": {"domain": [-1.6437, 1.3844], "nice": false, "zero": false}, "axis": null}
    },
    "layer": [
      {"data": {"name": "in_bg"}, "mark": {"type": "rect", "fill": "white"}, "encoding": {"x2": {"field": "a2"}, "y2": {"field": "b2"}}},
      {"data": {"name": "in_box"}, "mark": {"type": "rect", "fill": "#bcd5e8"}, "encoding": {"x2": {"field": "a2"}, "y2": {"field": "b2"}}},
      {"data": {"name": "in_poly"}, "mark": {"type": "area", "color": "#f4bfbf", "opacity": 1}, "encoding": {"y": {"field": "lo", "type": "quantitative"}, "y2": {"field": "hi"}}},
      {"data": {"name": "in_dashed"}, "mark": {"type": "line", "color": "#666666", "strokeWidth": 1.3, "strokeDash": [4, 3]}, "encoding": {"detail": {"field": "k"}}},
      {"data": {"name": "in_solid"}, "mark": {"type": "line", "color": "black", "strokeWidth": 2}, "encoding": {"detail": {"field": "k"}}},
      {"data": {"name": "in_box"}, "mark": {"type": "rect", "filled": false, "stroke": "black", "strokeWidth": 2}, "encoding": {"x2": {"field": "a2"}, "y2": {"field": "b2"}}},
      {"data": {"name": "in_vticks"}, "mark": {"type": "rule", "color": "black", "strokeWidth": 2}, "encoding": {"y2": {"field": "b2"}}},
      {"data": {"name": "in_hticks"}, "mark": {"type": "rule", "color": "black", "strokeWidth": 2}, "encoding": {"x2": {"field": "a2"}}},
      {"data": {"name": "in_ticklabels"}, "mark": {"type": "text", "align": "center", "baseline": "middle", "fontSize": 22}, "encoding": {"text": {"field": "t"}}},
      {"data": {"name": "in_axlabels"}, "mark": {"type": "text", "align": "center", "baseline": "middle", "fontSize": 24, "fontStyle": "italic"}, "encoding": {"text": {"field": "t"}}},
      {"data": {"name": "in_marks"}, "mark": {"type": "point", "shape": "M-1,-1L1,1M-1,1L1,-1", "filled": false, "size": 250, "strokeWidth": 3.5, "opacity": 1}, "encoding": {"color": {"field": "s", "type": "nominal", "scale": {"domain": ["R17A", "R17B", "R17C", "R18C"], "range": ["#1f77b4", "#a63603", "#e6550d", "#1a1a1a"]}, "legend": null}}},
      {"data": {"name": "in_labels"}, "mark": {"type": "text", "align": "center", "baseline": "middle", "fontSize": 19.5}, "encoding": {"text": {"field": "t"}, "color": {"field": "s", "type": "nominal", "scale": {"domain": ["R17A", "R17B", "R17C", "R18C"], "range": ["#1f77b4", "#a63603", "#e6550d", "#1a1a1a"]}, "legend": null}}}
    ]
  }
  ]
},
{
  "width": 517, "height": 197,
  "encoding": {
    "x": {"field": "x", "type": "quantitative", "scale": {"domain": [0, 2], "nice": false, "zero": false}, "axis": {"values": [0, 0.5, 1, 1.5, 2], "format": "~g", "title": null, "labelPadding": 12}},
    "y": {"field": "y", "type": "quantitative", "scale": {"domain": [5, 15.5], "nice": false, "zero": false}, "axis": {"values": [5, 10, 15], "title": "E/h (GHz)"}}
  },
  "layer": [
    {"data": {"name": "bL_Bd"}, "mark": {"type": "line", "color": "#a63603", "strokeWidth": 1.8, "strokeDash": [5, 4], "interpolate": "monotone"}, "encoding": {}},
    {"data": {"name": "bL_Ad"}, "mark": {"type": "line", "color": "#1f77b4", "strokeWidth": 1.8, "strokeDash": [5, 4], "interpolate": "monotone"}, "encoding": {}},
    {"data": {"name": "bP_B"}, "mark": {"type": "errorbar", "color": "#a63603", "thickness": 2, "opacity": 0.5}, "encoding": {"yError": {"field": "e"}}},
    {"data": {"name": "bP_B"}, "mark": {"type": "point", "filled": false, "color": "#a63603", "size": 45, "strokeWidth": 1.2, "opacity": 0.55}, "encoding": {}},
    {"data": {"name": "bP_A"}, "mark": {"type": "point", "filled": false, "color": "#1f77b4", "size": 50, "strokeWidth": 1.2, "opacity": 0.55}, "encoding": {}},
    {"data": {"name": "bL_A"}, "mark": {"type": "line", "color": "#1f77b4", "strokeWidth": 1.8, "interpolate": "monotone"}, "encoding": {}},
    {"data": {"name": "bL_B"}, "mark": {"type": "line", "color": "#a63603", "strokeWidth": 1.8, "interpolate": "monotone"}, "encoding": {}},
    {"data": {"name": "b_vframe"}, "mark": {"type": "rule", "color": "black", "strokeWidth": 2}, "encoding": {"y2": {"field": "y2"}}},
    {"data": {"name": "b_hframe"}, "mark": {"type": "rule", "color": "black", "strokeWidth": 2}, "encoding": {"x2": {"field": "x2"}}},
    {"data": {"name": "b_nodes_open"}, "mark": {"type": "point", "filled": false, "color": "#333333", "size": 120, "strokeWidth": 2.6, "opacity": 1}, "encoding": {}},
    {"data": {"name": "b_nodes_fill"}, "mark": {"type": "point", "filled": true, "color": "#333333", "size": 210, "opacity": 1}, "encoding": {}},
    {"data": {"name": "b_labels"}, "mark": {"type": "text", "align": "right", "baseline": "middle", "fontSize": 19.5}, "encoding": {"text": {"field": "t"}, "color": {"field": "s", "type": "nominal", "scale": {"domain": ["R17A", "R17B"], "range": ["#1f77b4", "#a63603"]}, "legend": null}}},
    {"data": {"name": "b_ticklabels"}, "mark": {"type": "text", "align": "center", "baseline": "middle", "fontSize": 22}, "encoding": {"text": {"field": "t"}}},
    {"data": {"name": "b_panel"}, "mark": {"type": "text", "align": "left", "baseline": "middle", "fontSize": 22}, "encoding": {"text": {"field": "t"}}},
    {"data": {"name": "b_ng_n"}, "mark": {"type": "text", "align": "left", "baseline": "alphabetic", "fontSize": 22, "fontStyle": "italic"}, "encoding": {"text": {"field": "t"}}},
    {"data": {"name": "b_ng_g"}, "mark": {"type": "text", "align": "left", "baseline": "alphabetic", "fontSize": 15.5, "fontStyle": "italic"}, "encoding": {"text": {"field": "t"}}},
    {"data": {"name": "b_ng_v"}, "mark": {"type": "text", "align": "left", "baseline": "alphabetic", "fontSize": 22}, "encoding": {"text": {"field": "t"}}},
    {"data": {"name": "b_xt_it"}, "mark": {"type": "text", "align": "left", "baseline": "alphabetic", "fontSize": 22, "fontStyle": "italic"}, "encoding": {"text": {"field": "t"}}},
    {"data": {"name": "b_xt_sub"}, "mark": {"type": "text", "align": "left", "baseline": "alphabetic", "fontSize": 15.5}, "encoding": {"text": {"field": "t"}}},
    {"data": {"name": "b_xt_sl"}, "mark": {"type": "text", "align": "left", "baseline": "alphabetic", "fontSize": 22}, "encoding": {"text": {"field": "t"}}}
  ]
}
]
}
